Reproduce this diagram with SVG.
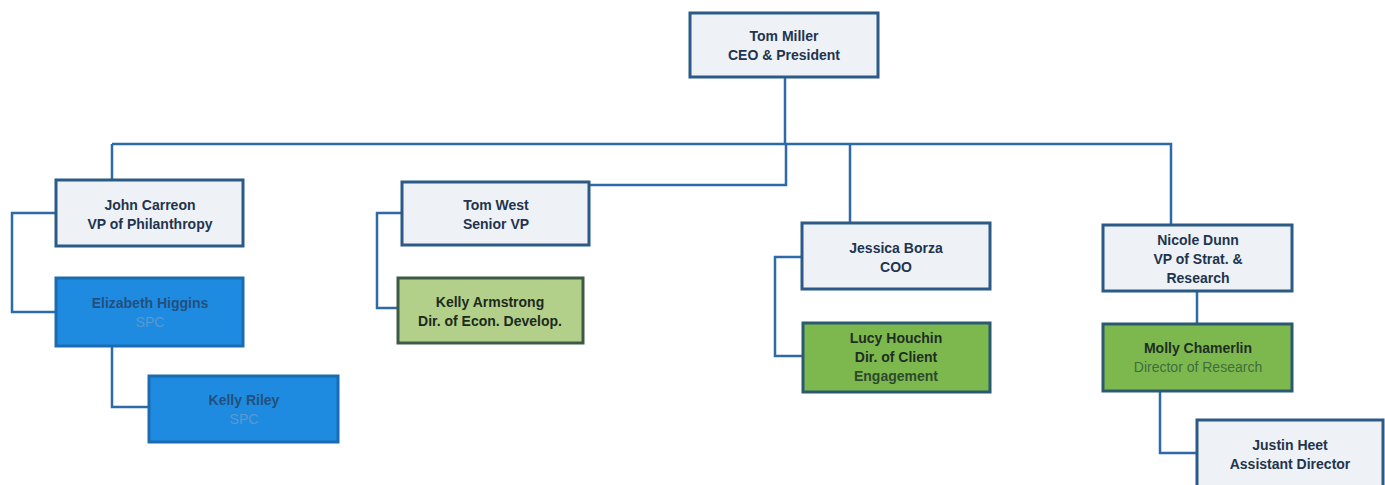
<svg xmlns="http://www.w3.org/2000/svg" width="1385" height="485" viewBox="0 0 1385 485">
<style>
.box{stroke:#2b5a86;stroke-width:3}
.light{fill:#eef2f7}
.blue{fill:#1f8be0;stroke:#1a6cb2}
.lgreen{fill:#b3d08a;stroke:#3d5a45}
.dgreen{fill:#7db84f;stroke:#2b5a70}
.t{font-family:"Liberation Sans",Arial,sans-serif;font-size:14px;font-weight:bold;text-anchor:middle;fill:#22344e}
.tb{fill:#22507e}
.tbs{fill:#5a98d0;font-weight:normal}
.tg{fill:#3f6e3a;font-weight:normal}
.conn{fill:none;stroke:#2e6aa8;stroke-width:2.5}
</style>
<g id="connectors">
<path class="conn" d="M785,77 V144 M112,144 H1171 V225 M112,144 V180 M786,144 V185 H589"/>
<path class="conn" d="M850,144 V223"/>
<path class="conn" d="M56,213 H12 V312 H56 M112,346 V407 H149"/>
<path class="conn" d="M402,213 H377 V308 H398"/>
<path class="conn" d="M802,257 H775 V356 H803"/>
<path class="conn" d="M1197,291 V324 M1160,391 V453 H1197"/>
</g>
<g id="tom-miller">
<rect class="box light" x="690" y="13" width="188" height="64"/>
<text class="t" x="784" y="41">Tom Miller</text>
<text class="t" x="784" y="60">CEO &amp; President</text>
</g>
<g id="john-carreon">
<rect class="box light" x="56" y="180" width="187" height="66"/>
<text class="t" x="150" y="210">John Carreon</text>
<text class="t" x="150" y="229">VP of Philanthropy</text>
</g>
<g id="elizabeth-higgins">
<rect class="box blue" x="56" y="278" width="187" height="68"/>
<text class="t tb" x="150" y="308">Elizabeth Higgins</text>
<text class="t tbs" x="150" y="327">SPC</text>
</g>
<g id="kelly-riley">
<rect class="box blue" x="149" y="376" width="189" height="66"/>
<text class="t tb" x="244" y="405">Kelly Riley</text>
<text class="t tbs" x="244" y="424">SPC</text>
</g>
<g id="tom-west">
<rect class="box light" x="402" y="182" width="187" height="63"/>
<text class="t" x="496" y="210">Tom West</text>
<text class="t" x="496" y="229">Senior VP</text>
</g>
<g id="kelly-armstrong">
<rect class="box lgreen" x="398" y="278" width="185" height="65"/>
<text class="t" x="490" y="307" style="fill:#1c2a1c">Kelly Armstrong</text>
<text class="t" x="490" y="326" style="fill:#1c2a1c">Dir. of Econ. Develop.</text>
</g>
<g id="jessica-borza">
<rect class="box light" x="802" y="223" width="188" height="66"/>
<text class="t" x="896" y="253">Jessica Borza</text>
<text class="t" x="896" y="272">COO</text>
</g>
<g id="lucy-houchin">
<rect class="box dgreen" x="803" y="323" width="187" height="69"/>
<text class="t" x="896" y="343" style="fill:#1f2e22">Lucy Houchin</text>
<text class="t" x="896" y="362" style="fill:#1f2e22">Dir. of Client</text>
<text class="t" x="896" y="381" style="fill:#2e4a2c">Engagement</text>
</g>
<g id="nicole-dunn">
<rect class="box light" x="1103" y="225" width="189" height="66"/>
<text class="t" x="1198" y="245">Nicole Dunn</text>
<text class="t" x="1198" y="264">VP of Strat. &amp;</text>
<text class="t" x="1198" y="283">Research</text>
</g>
<g id="molly-chamerlin">
<rect class="box dgreen" x="1103" y="324" width="189" height="67"/>
<text class="t" x="1198" y="353" style="fill:#1f2e22">Molly Chamerlin</text>
<text class="t tg" x="1198" y="372">Director of Research</text>
</g>
<g id="justin-heet">
<rect class="box light" x="1197" y="420" width="186" height="70"/>
<text class="t" x="1290" y="450">Justin Heet</text>
<text class="t" x="1290" y="469">Assistant Director</text>
</g>
</svg>
